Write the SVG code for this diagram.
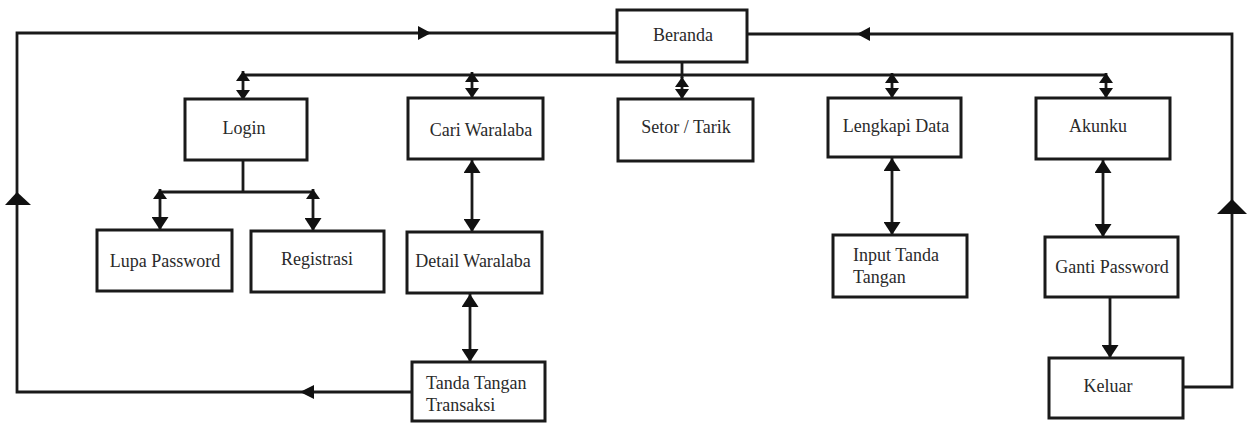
<svg xmlns="http://www.w3.org/2000/svg" width="1254" height="423" viewBox="0 0 1254 423">
<style>
.box{fill:#fff;stroke:#1a1a1a;stroke-width:3}
.t{font-family:"Liberation Serif","Times New Roman",serif;font-size:18px;fill:#2a2a2a}
.c{text-anchor:middle}
.ln{fill:none;stroke:#1a1a1a;stroke-width:2.8}
.ah{fill:#111}
</style>
<defs>
<marker id="a" markerUnits="userSpaceOnUse" markerWidth="10" markerHeight="14" refX="10" refY="7" orient="auto-start-reverse" viewBox="0 0 10 14">
<path d="M0,0 L10,7 L0,14 z" fill="#111"/>
</marker>
<marker id="b" markerUnits="userSpaceOnUse" markerWidth="13" markerHeight="17" refX="13" refY="8.5" orient="auto-start-reverse" viewBox="0 0 13 17">
<path d="M0,0 L13,8.5 L0,17 z" fill="#111"/>
</marker>
</defs>
<g id="connectors">
<!-- left loop -->
<path class="ln" d="M412,392 L17,392 L17,33 L617,33"/>
<polygon class="ah" points="300,392 314,385 314,399"/>
<polygon class="ah" points="17,192 5,205 31,205"/>
<polygon class="ah" points="431,33 418,26 418,40"/>
<!-- right loop -->
<path class="ln" d="M1183,387 L1232,387 L1232,34 L747,34"/>
<polygon class="ah" points="1232,199 1217,214 1247,214"/>
<polygon class="ah" points="857,34 870,27 870,41"/>
<!-- bus -->
<path class="ln" d="M243,75 L1107,75"/>
<path class="ln" d="M682,62 L682,78"/>
<path class="ln" d="M243,71 L243,100" marker-start="url(#a)" marker-end="url(#a)"/>
<path class="ln" d="M472,72 L472,98" marker-start="url(#a)" marker-end="url(#a)"/>
<path class="ln" d="M682,77 L682,99" marker-start="url(#a)" marker-end="url(#a)"/>
<path class="ln" d="M892,73 L892,98" marker-start="url(#a)" marker-end="url(#a)"/>
<path class="ln" d="M1106,73 L1106,98" marker-start="url(#a)" marker-end="url(#a)"/>
<!-- login children -->
<path class="ln" d="M243,160 L243,192 M160,192 L313,192"/>
<path class="ln" d="M160,189 L160,230" marker-start="url(#a)" marker-end="url(#b)"/>
<path class="ln" d="M313,189 L313,231" marker-start="url(#a)" marker-end="url(#b)"/>
<!-- vertical chains -->
<path class="ln" d="M472,160 L472,232" marker-start="url(#b)" marker-end="url(#b)"/>
<path class="ln" d="M470,294 L470,362" marker-start="url(#b)" marker-end="url(#b)"/>
<path class="ln" d="M892,158 L892,235" marker-start="url(#b)" marker-end="url(#b)"/>
<path class="ln" d="M1103,160 L1103,237" marker-start="url(#b)" marker-end="url(#b)"/>
<path class="ln" d="M1110,298 L1110,358" marker-end="url(#b)"/>
</g>
<g id="beranda"><rect class="box" x="617" y="10" width="130" height="52"/><text class="t c" x="683" y="41">Beranda</text></g>
<g id="login"><rect class="box" x="185" y="99" width="122" height="61"/><text class="t c" x="244" y="134">Login</text></g>
<g id="cari-waralaba"><rect class="box" x="408" y="98" width="135" height="61"/><text class="t c" x="481" y="136">Cari Waralaba</text></g>
<g id="setor-tarik"><rect class="box" x="618" y="99" width="135" height="62"/><text class="t c" x="686" y="133">Setor / Tarik</text></g>
<g id="lengkapi-data"><rect class="box" x="828" y="98" width="133" height="59"/><text class="t c" x="896" y="132">Lengkapi Data</text></g>
<g id="akunku"><rect class="box" x="1036" y="98" width="134" height="61"/><text class="t c" x="1098" y="132">Akunku</text></g>
<g id="lupa-password"><rect class="box" x="97" y="230" width="135" height="61"/><text class="t c" x="165" y="267">Lupa Password</text></g>
<g id="registrasi"><rect class="box" x="251" y="231" width="133" height="61"/><text class="t c" x="317" y="265">Registrasi</text></g>
<g id="detail-waralaba"><rect class="box" x="407" y="232" width="135" height="61"/><text class="t c" x="473" y="267">Detail Waralaba</text></g>
<g id="tanda-tangan-transaksi"><rect class="box" x="412" y="362" width="133" height="59"/><text class="t" x="426" y="389">Tanda Tangan</text><text class="t" x="426" y="411">Transaksi</text></g>
<g id="input-tanda-tangan"><rect class="box" x="833" y="235" width="134" height="62"/><text class="t" x="853" y="261">Input Tanda</text><text class="t" x="853" y="283">Tangan</text></g>
<g id="ganti-password"><rect class="box" x="1045" y="237" width="133" height="60"/><text class="t c" x="1112" y="273">Ganti Password</text></g>
<g id="keluar"><rect class="box" x="1049" y="358" width="134" height="60"/><text class="t c" x="1108" y="392">Keluar</text></g>
</svg>
